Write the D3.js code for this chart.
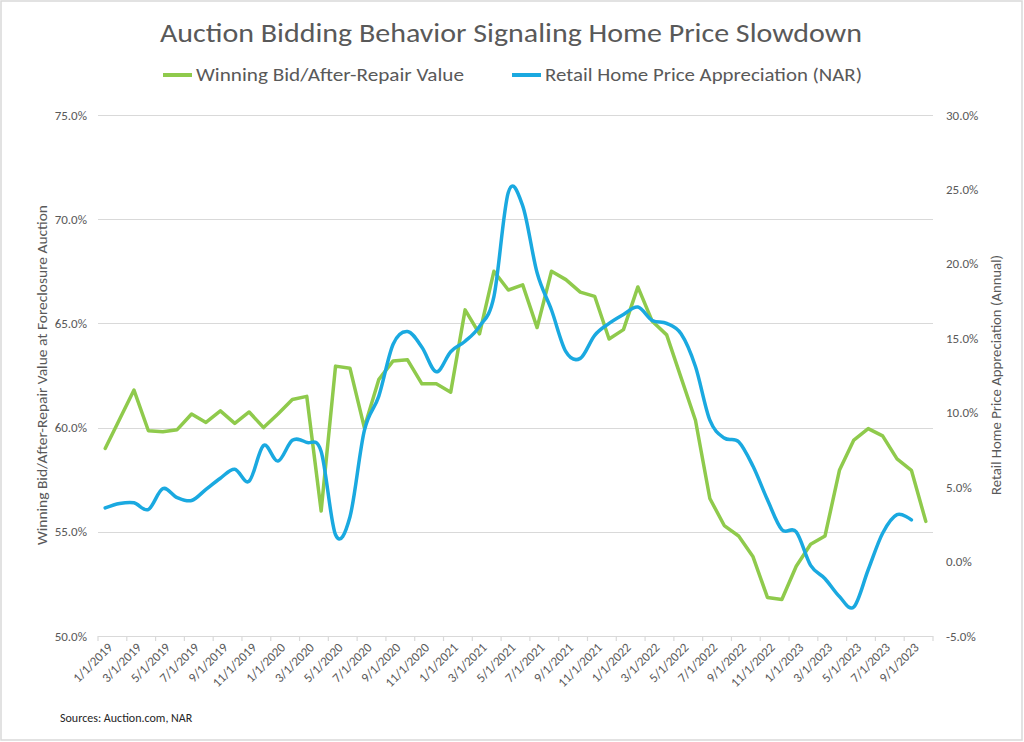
<!DOCTYPE html>
<html>
<head>
<meta charset="utf-8">
<script src="https://cdn.jsdelivr.net/npm/d3@7"></script>
<style>
  html, body { margin: 0; padding: 0; background: #fff; }
  svg { display: block; font-family: Carlito, Calibri, Lato, sans-serif; }
</style>
</head>
<body>
<svg id="chart" width="1024" height="742"></svg>
<script>
const months = [
  "1/1/2019","2/1/2019","3/1/2019","4/1/2019","5/1/2019","6/1/2019","7/1/2019","8/1/2019","9/1/2019","10/1/2019","11/1/2019","12/1/2019",
  "1/1/2020","2/1/2020","3/1/2020","4/1/2020","5/1/2020","6/1/2020","7/1/2020","8/1/2020","9/1/2020","10/1/2020","11/1/2020","12/1/2020",
  "1/1/2021","2/1/2021","3/1/2021","4/1/2021","5/1/2021","6/1/2021","7/1/2021","8/1/2021","9/1/2021","10/1/2021","11/1/2021","12/1/2021",
  "1/1/2022","2/1/2022","3/1/2022","4/1/2022","5/1/2022","6/1/2022","7/1/2022","8/1/2022","9/1/2022","10/1/2022","11/1/2022","12/1/2022",
  "1/1/2023","2/1/2023","3/1/2023","4/1/2023","5/1/2023","6/1/2023","7/1/2023","8/1/2023","9/1/2023","10/1/2023"
];

// Winning Bid / After-Repair Value (%), left axis
const winningBid = [
  59.0, 60.4, 61.8, 59.85, 59.8, 59.9, 60.65, 60.25, 60.8, 60.2, 60.75, 60.0,
  60.65, 61.35, 61.5, 56.0, 62.95, 62.85, 60.0, 62.3, 63.2, 63.25, 62.1, 62.1,
  61.7, 65.65, 64.5, 67.5, 66.6, 66.85, 64.8, 67.5, 67.1, 66.5, 66.3, 64.25,
  64.7, 66.75, 65.1, 64.45, 62.4, 60.35, 56.6, 55.3, 54.8, 53.8, 51.85, 51.75,
  53.35, 54.4, 54.8, 57.95, 59.4, 59.95, 59.6, 58.5, 57.95, 55.5
];

// Retail Home Price Appreciation (NAR), annual %, right axis
const retailHPA = [
  3.6, 3.9, 3.95, 3.5, 4.9, 4.3, 4.1, 4.85, 5.6, 6.2, 5.4, 7.8,
  6.75, 8.15, 8.0, 7.4, 1.8, 3.0, 8.8, 11.1, 14.6, 15.45, 14.4, 12.75,
  14.1, 14.8, 15.8, 17.8, 24.8, 23.9, 19.4, 16.9, 14.1, 13.65, 15.2, 16.0,
  16.6, 17.1, 16.2, 16.0, 15.3, 13.1, 9.5, 8.3, 8.05, 6.4, 4.15, 2.15,
  2.0, -0.25, -1.15, -2.35, -3.05, -0.55, 1.9, 3.15, 2.8
];

const leftTicks = [50, 55, 60, 65, 70, 75];
const rightTicks = [-5, 0, 5, 10, 15, 20, 25, 30];

const titleText = "Auction Bidding Behavior Signaling Home Price Slowdown";
const seriesNames = ["Winning Bid/After-Repair Value", "Retail Home Price Appreciation (NAR)"];
const leftTitle = "Winning Bid/After-Repair Value at Foreclosure Auction";
const rightTitle = "Retail Home Price Appreciation (Annual)";
const sourceText = "Sources: Auction.com, NAR";

const GREEN = "#8fca4c", BLUE = "#1aa9e0", GRID = "#d9d9d9", TXT = "#595959";

const svg = d3.select("#chart");
const W = 1024, H = 742;
const plot = { left: 98, right: 933, top: 115, bottom: 636 };

// outer border
svg.append("rect").attr("x", 1).attr("y", 1).attr("width", W - 3).attr("height", H - 3)
  .attr("fill", "#fff").attr("stroke", "#d9d9d9").attr("stroke-width", 1.5);

const x = d3.scalePoint().domain(months).range([plot.left, plot.right]).padding(0.5);
const step = x.step();
const yL = d3.scaleLinear().domain([50, 75]).range([plot.bottom, plot.top]);
const yR = d3.scaleLinear().domain([-5, 30]).range([plot.bottom, plot.top]);

// gridlines
svg.append("g").selectAll("line").data(leftTicks).join("line")
  .attr("x1", plot.left).attr("x2", plot.right)
  .attr("y1", d => Math.round(yL(d)) + 0.5).attr("y2", d => Math.round(yL(d)) + 0.5)
  .attr("stroke", GRID).attr("stroke-width", 1.2);

// left axis labels
const fmt = d => d.toFixed(1) + "%";
svg.append("g").selectAll("text").data(leftTicks).join("text")
  .attr("x", 87).attr("y", d => yL(d)).attr("dy", "0.35em")
  .attr("text-anchor", "end").attr("font-size", 13).attr("fill", TXT)
  .text(fmt);

// right axis labels
svg.append("g").selectAll("text").data(rightTicks).join("text")
  .attr("x", 946).attr("y", d => yR(d)).attr("dy", "0.35em")
  .attr("text-anchor", "start").attr("font-size", 13).attr("fill", TXT)
  .text(fmt);

// x axis ticks (between categories, every 2)
const tickIdx = d3.range(0, months.length + 1, 2);
svg.append("g").selectAll("line").data(tickIdx).join("line")
  .attr("x1", i => plot.left + i * step).attr("x2", i => plot.left + i * step)
  .attr("y1", plot.bottom).attr("y2", plot.bottom + 5)
  .attr("stroke", GRID).attr("stroke-width", 1.2);

// x labels
const labelMonths = months.filter((m, i) => i % 2 === 0);
svg.append("g").selectAll("text").data(labelMonths).join("text")
  .attr("transform", d => `translate(${x(d) + 5},${plot.bottom + 9}) rotate(-45)`)
  .attr("text-anchor", "end").attr("dy", "0.35em")
  .attr("font-size", 13).attr("fill", TXT)
  .text(d => d);

// lines
const lineL = d3.line().x((d, i) => x(months[i])).y(d => yL(d));
const lineR = d3.line().x((d, i) => x(months[i])).y(d => yR(d)).curve(d3.curveCatmullRom.alpha(0));

svg.append("path").datum(winningBid).attr("d", lineL)
  .attr("fill", "none").attr("stroke", GREEN).attr("stroke-width", 3.5)
  .attr("stroke-linejoin", "round").attr("stroke-linecap", "round");
svg.append("path").datum(retailHPA).attr("d", lineR)
  .attr("fill", "none").attr("stroke", BLUE).attr("stroke-width", 3.5)
  .attr("stroke-linejoin", "round").attr("stroke-linecap", "round");

// title
svg.append("text").attr("x", 511).attr("y", 42).attr("text-anchor", "middle")
  .attr("font-size", 27).attr("fill", TXT)
  .attr("textLength", 702).attr("lengthAdjust", "spacingAndGlyphs")
  .text(titleText);

// legend
const legend = [
  { name: seriesNames[0], color: GREEN, x0: 163, x1: 192, tx: 196, tw: 268 },
  { name: seriesNames[1], color: BLUE, x0: 512, x1: 541, tx: 545, tw: 317 }
];
const lg = svg.append("g");
legend.forEach(l => {
  lg.append("line").attr("x1", l.x0).attr("x2", l.x1).attr("y1", 75).attr("y2", 75)
    .attr("stroke", l.color).attr("stroke-width", 4);
  lg.append("text").attr("x", l.tx).attr("y", 75).attr("dy", "0.35em")
    .attr("font-size", 18).attr("fill", TXT)
    .attr("textLength", l.tw).attr("lengthAdjust", "spacingAndGlyphs")
    .text(l.name);
});

// axis titles
svg.append("text").attr("transform", "translate(47,375) rotate(-90)")
  .attr("text-anchor", "middle").attr("font-size", 14).attr("fill", TXT)
  .attr("textLength", 340).attr("lengthAdjust", "spacingAndGlyphs")
  .text(leftTitle);
svg.append("text").attr("transform", "translate(1001,375) rotate(-90)")
  .attr("text-anchor", "middle").attr("font-size", 14).attr("fill", TXT)
  .attr("textLength", 240).attr("lengthAdjust", "spacingAndGlyphs")
  .text(rightTitle);

// source
svg.append("text").attr("x", 60).attr("y", 722).attr("font-size", 12).attr("fill", "#262626")
  .text(sourceText);
</script>
</body>
</html>
